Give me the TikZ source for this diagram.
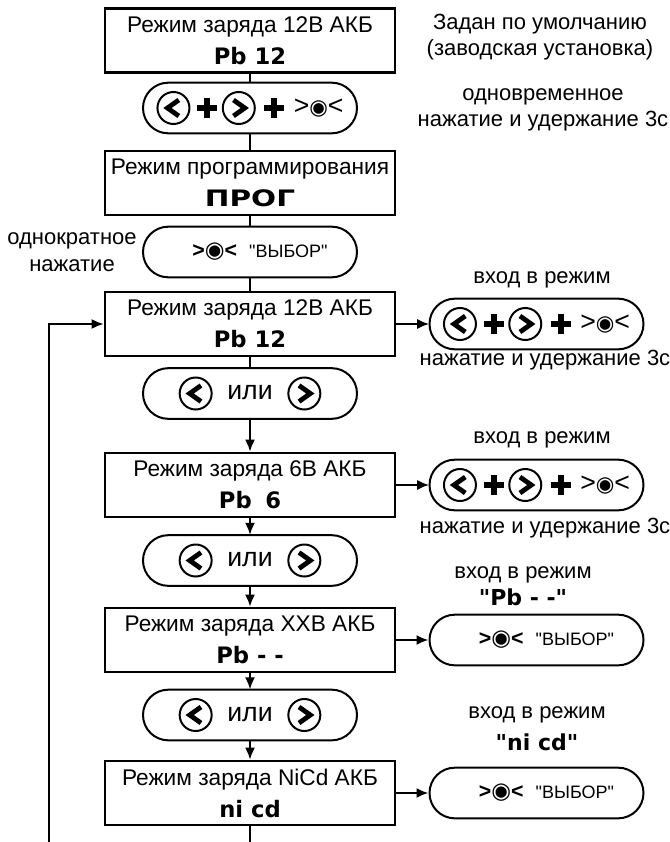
\documentclass[tikz,border=0pt]{standalone}
\usepackage{fontspec}
\usepackage{graphicx}
\setmainfont{Liberation Sans}
\newfontfamily\lcdfont{DejaVu Sans}
\newfontfamily\symfont{DejaVu Sans}
\usetikzlibrary{arrows.meta}

% индикатор (жирный "цифровой" шрифт)
\newcommand{\indic}[1]{{\lcdfont\bfseries #1}}
% кнопки < > и знак +
\newcommand{\keyL}{\tikz[baseline=-0.55ex, sharp corners]{\draw[line width=1.5pt] (0pt,0pt) circle (12pt);
  \draw[line width=3.6pt] (4pt,6pt) -- (-4.5pt,0pt) -- (4pt,-6pt);}}
\newcommand{\keyR}{\tikz[baseline=-0.55ex, sharp corners]{\draw[line width=1.5pt] (0pt,0pt) circle (12pt);
  \draw[line width=3.6pt] (-4pt,6pt) -- (4.5pt,0pt) -- (-4pt,-6pt);}}
\newcommand{\keyPlus}{\tikz[baseline=-0.55ex, sharp corners]\draw[line width=4.5pt] (-7.5pt,0pt) -- (7.5pt,0pt) (0pt,-7.5pt) -- (0pt,7.5pt);}
% кнопка ВЫБОР >◉<
\newcommand{\selThin}{{\fontsize{20}{20}\selectfont>}{\symfont\fontsize{16}{16}\selectfont ◉}{\fontsize{20}{20}\selectfont<}}
\newcommand{\selBold}{{\fontsize{16}{16}\selectfont\bfseries>}{\symfont\fontsize{17}{17}\selectfont ◉}{\fontsize{16}{16}\selectfont\bfseries<}}
\newcommand{\keyCombo}{\keyL\hspace{3pt}\keyPlus\hspace{1pt}\keyR\hspace{4pt}\keyPlus\hspace{5pt}\selThin}
\newcommand{\keyOr}{\keyL\hspace{11pt}{\fontsize{20}{20}\selectfont или}\hspace{11pt}\keyR}
\newcommand{\keySel}{\hspace{15pt}\selBold\hspace{9pt}{\fontsize{13.5}{13.5}\selectfont\textquotedbl ВЫБОР\textquotedbl}}

\begin{document}
\begin{tikzpicture}[x=0.75pt, y=-0.75pt, line width=1.5pt,
    >={Latex[length=9pt,width=7.5pt]},
    font=\fontsize{16.5}{19.5}\selectfont,
    modebox/.style={draw, line width=2pt, minimum width=217.5pt, minimum height=48pt,
      inner sep=0pt, align=center, font=\fontsize{17}{24}\selectfont},
    keypill/.style={draw, rounded corners=19pt, minimum width=160.5pt, minimum height=38pt,
      inner sep=0pt}]
  \useasboundingbox (0,0) rectangle (669,842);
  % ── Основная колонка ────────────────────────────────────────────────────
  \node[modebox] (b12top) at (250,40.5) {Режим заряда 12В АКБ\\\indic{Pb 12}};
  \node[keypill] (kdef) at (250,108) {\keyCombo};
  \node[modebox] (bprog) at (250,183)
    {Режим программирования\\\indic{\scalebox{1.3}[1]{ПРОГ}}};
  \node[keypill] (ksel) at (250,252) {\keySel};
  \node[modebox] (b12) at (250,324) {Режим заряда 12В АКБ\\\indic{Pb 12}};
  \node[keypill] (kor1) at (250,393.5) {\keyOr};
  \node[modebox] (b6) at (250,485) {Режим заряда 6В АКБ\\\indic{Pb\hspace{0.6em}6}};
  \node[keypill] (kor2) at (250,560.5) {\keyOr};
  \node[modebox] (bxx) at (250,640) {Режим заряда XXВ АКБ\\\indic{Pb - -}};
  \node[keypill] (kor3) at (250,715) {\keyOr};
  \node[modebox] (bnicd) at (250,793) {Режим заряда NiCd АКБ\\\indic{ni cd}};
  % ── Правая колонка: вход в режим ────────────────────────────────────────
  \node[keypill] (k12) at (536.5,324) {\keyCombo};
  \node[keypill] (k6) at (536.5,485) {\keyCombo};
  \node[keypill] (kxx) at (536.5,640) {\keySel};
  \node[keypill] (knicd) at (536.5,793) {\keySel};
  % ── Подписи ─────────────────────────────────────────────────────────────
  \node[align=center] (tdef) at (540,37) {Задан по умолчанию\\(заводская установка)};
  \node[align=center] (tsim) at (543,110) {одновременное\\нажатие и удержание 3с};
  \node[align=center, font=\fontsize{16.5}{20}\selectfont] (tonce) at (72,252)
    {однократное\\нажатие};
  \node (tin12) at (542,280) {вход в режим};
  \node (thold12) at (545,360) {нажатие и удержание 3с};
  \node (tin6) at (542,440) {вход в режим};
  \node (thold6) at (545,528) {нажатие и удержание 3с};
  \node[align=center, font=\fontsize{16.5}{20}\selectfont] (tinxx) at (523,586)
    {вход в режим\\\indic{"Pb - -"}};
  \node[align=center, font=\fontsize{16.5}{24}\selectfont] (tinnicd) at (537,729)
    {вход в режим\\\indic{"ni cd"}};
  % ── Связи ───────────────────────────────────────────────────────────────
  \coordinate (loopbot) at (49,842);
  \coordinate (endbot) at (250,842);
  \draw (b12top) -- (kdef);
  \draw (kdef) -- (bprog);
  \draw (bprog) -- (ksel);
  \draw (ksel) -- (b12);
  \draw (b12) -- (kor1);
  \draw[->] (kor1) -- (b6);
  \draw[->] (b6) -- (kor2);
  \draw[->] (kor2) -- (bxx);
  \draw[->] (bxx) -- (kor3);
  \draw[->] (kor3) -- (bnicd);
  \draw (bnicd) -- (endbot);
  % возврат к началу списка
  \draw[->] (loopbot) |- (b12);
  \draw[->] (b12) -- (k12);
  \draw[->] (b6) -- (k6);
  \draw[->] (bxx) -- (kxx);
  \draw[->] (bnicd) -- (knicd);
\end{tikzpicture}
\end{document}
